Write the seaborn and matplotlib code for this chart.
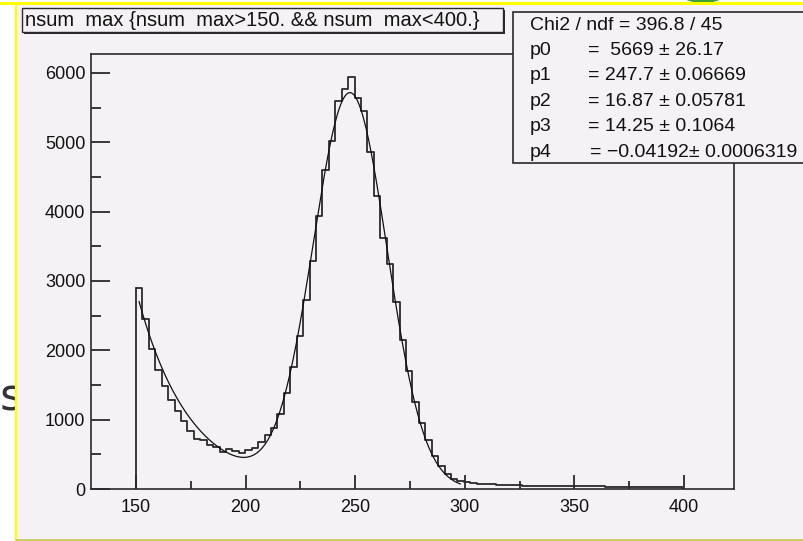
import numpy as np
import pandas as pd
import matplotlib
matplotlib.use("Agg")
import matplotlib.pyplot as plt
import seaborn as sns
from matplotlib.patches import Rectangle, Ellipse
from matplotlib.ticker import MultipleLocator

# ---------------- data ----------------
bin_start = 150.0
bin_width = 2.933
counts = [2895, 2447, 2015, 1716, 1486, 1290, 1130, 980, 830, 720,
          700, 640, 611, 538, 572, 548, 524, 560, 587, 683,
          779, 875, 1082, 1389, 1755, 2207, 2726, 3293, 3938, 4601,
          5024, 5596, 5769, 5947, 5635, 5457, 4865, 4226, 3616, 3250,
          2700, 2150, 1700, 1250, 950, 700, 480, 330, 220, 150,
          110, 100, 90, 75, 70, 65, 60, 55, 55, 60,
          50, 50, 48, 45, 45, 50, 45, 42, 40, 40,
          40, 38, 38, 36, 35, 35, 35, 25, 30, 28,
          35, 30, 25, 25, 25]
param_names = ["p0", "p1", "p2", "p3", "p4"]
param_values = [5669, 247.7, 16.87, 14.25, -0.04192]
param_texts = ["=  5669 \u00b1 26.17", "= 247.7 \u00b1 0.06669", "= 16.87 \u00b1 0.05781",
               "= 14.25 \u00b1 0.1064", "= \u22120.04192\u00b1 0.0006319"]
chi2_text = "Chi2 / ndf = 396.8 / 45"
fit_range = (151.4, 298.0)
x_ticks = [150, 200, 250, 300, 350, 400]
y_ticks = [0, 1000, 2000, 3000, 4000, 5000, 6000]
title = "nsum  max {nsum  max>150. && nsum  max<400.}"

# ---------------- figure ----------------
W, H = 804, 541
sns.set_theme(style="white")
plt.rcParams["font.family"] = ["Liberation Sans", "DejaVu Sans"]
fig = plt.figure(figsize=(W / 100, H / 100), dpi=100, facecolor="white")

def fx(px):
    return px / W

def fy(py):
    return 1 - py / H

canvas_bg = "#f5f2f5"
ink = "#2a2a2a"

# side letter of the slide, partly hidden behind the canvas
fig.text(fx(0), fy(398), "s", fontsize=32, color="#333333", ha="left", va="center",
         family=["DejaVu Sans"], zorder=-3)
# canvas area (slide screenshot style)
fig.patches.append(Rectangle((fx(16), fy(539)), fx(804 - 16) + 0.01, (539 - 3) / H,
                             transform=fig.transFigure, facecolor=canvas_bg,
                             edgecolor="none", zorder=-2))
fig.patches.append(Ellipse((fx(703), fy(-8)), 48 / W, 22 / H, transform=fig.transFigure,
                           facecolor="#3aa03a", edgecolor="none", zorder=-1.5))
fig.add_artist(plt.Line2D([fx(0), fx(804)], [fy(3), fy(3)], color="#ffff00", lw=2.2,
                          transform=fig.transFigure, zorder=-1))
fig.add_artist(plt.Line2D([fx(16), fx(16)], [fy(3), fy(539)], color="#ffff00", lw=1.6,
                          transform=fig.transFigure, zorder=-1))
fig.add_artist(plt.Line2D([fx(16), fx(804)], [fy(539.5), fy(539.5)], color="#c8c860", lw=2.0,
                          transform=fig.transFigure, zorder=-1))

# ---------------- axes ----------------
ax = fig.add_axes([fx(91), fy(489), fx(734 - 91), (489 - 54) / H])
ax.set_zorder(1)
ax.set_facecolor(canvas_bg)

edges = [bin_start + bin_width * i for i in range(len(counts) + 1)]
centers = [(edges[i] + edges[i + 1]) / 2 for i in range(len(counts))]
df = pd.DataFrame({"x": centers, "w": counts})
sns.histplot(data=df, x="x", weights="w", bins=edges, element="step", fill=False,
             color=ink, linewidth=1.3, ax=ax)
# outer edges of the histogram drop to zero as in ROOT
ax.plot([edges[0], edges[0]], [0, counts[0]], color=ink, lw=1.3)
ax.plot([edges[-1], edges[-1]], [0, counts[-1]], color=ink, lw=1.3)

# fit function: gaus(p0,p1,p2) + expo(p3,p4) with the parameters shown in the box
xf = np.linspace(fit_range[0], fit_range[1], 400)
p0, p1, p2, p3, p4 = param_values
yf = p0 * np.exp(-0.5 * ((xf - p1) / p2) ** 2) + np.exp(p3 + p4 * xf)
sns.lineplot(x=xf, y=yf, color="#111111", linewidth=0.9, ax=ax)

ax.set_xlim(129.5, 422.8)
ax.set_ylim(0, 6274)
ax.set_xticks(x_ticks)
ax.set_yticks(y_ticks)
ax.xaxis.set_minor_locator(MultipleLocator(25))
ax.yaxis.set_minor_locator(MultipleLocator(500))
ax.tick_params(axis="both", which="both", direction="in", color=ink, width=1.3,
               labelsize=13, labelcolor="#111111", bottom=True, left=True,
               top=False, right=False)
ax.tick_params(axis="y", which="major", length=13.5, pad=4)
ax.tick_params(axis="y", which="minor", length=7)
ax.tick_params(axis="x", which="major", length=10, pad=7)
ax.tick_params(axis="x", which="minor", length=5.5)
ax.set_xlabel("")
ax.set_ylabel("")
for s in ax.spines.values():
    s.set_color(ink)
    s.set_linewidth(1.2)

# ---------------- title box ----------------
fig.patches.append(Rectangle((fx(24), fy(34)), fx(505 - 24), (34 - 10) / H,
                             transform=fig.transFigure, facecolor=ink, edgecolor="none", zorder=3))
fig.patches.append(Rectangle((fx(22), fy(32)), fx(503 - 22), (32 - 8) / H,
                             transform=fig.transFigure, facecolor=canvas_bg, edgecolor=ink,
                             linewidth=1.0, zorder=4))
fig.text(fx(25), fy(21), title, fontsize=14.5, color="#111111", ha="left", va="center",
         zorder=5)

# ---------------- stats box ----------------
fig.patches.append(Rectangle((fx(513), fy(163)), fx(804 - 513) + 0.01, (163 - 12) / H,
                             transform=fig.transFigure, facecolor=canvas_bg, edgecolor=ink,
                             linewidth=1.2, zorder=4))
fig.text(fx(530), fy(25), chi2_text, fontsize=14, color="#111111", ha="left",
         va="center", zorder=5)
val_x = [588, 588, 588, 588, 590]
for i, (nm, txt) in enumerate(zip(param_names, param_texts)):
    yy = 50 + i * 25.6
    fig.text(fx(530), fy(yy), nm, fontsize=14, color="#111111", ha="left", va="center", zorder=5)
    fig.text(fx(val_x[i]), fy(yy), txt, fontsize=14, color="#111111", ha="left",
             va="center", zorder=5)

fig.savefig("out.png", dpi=100, facecolor="white")
